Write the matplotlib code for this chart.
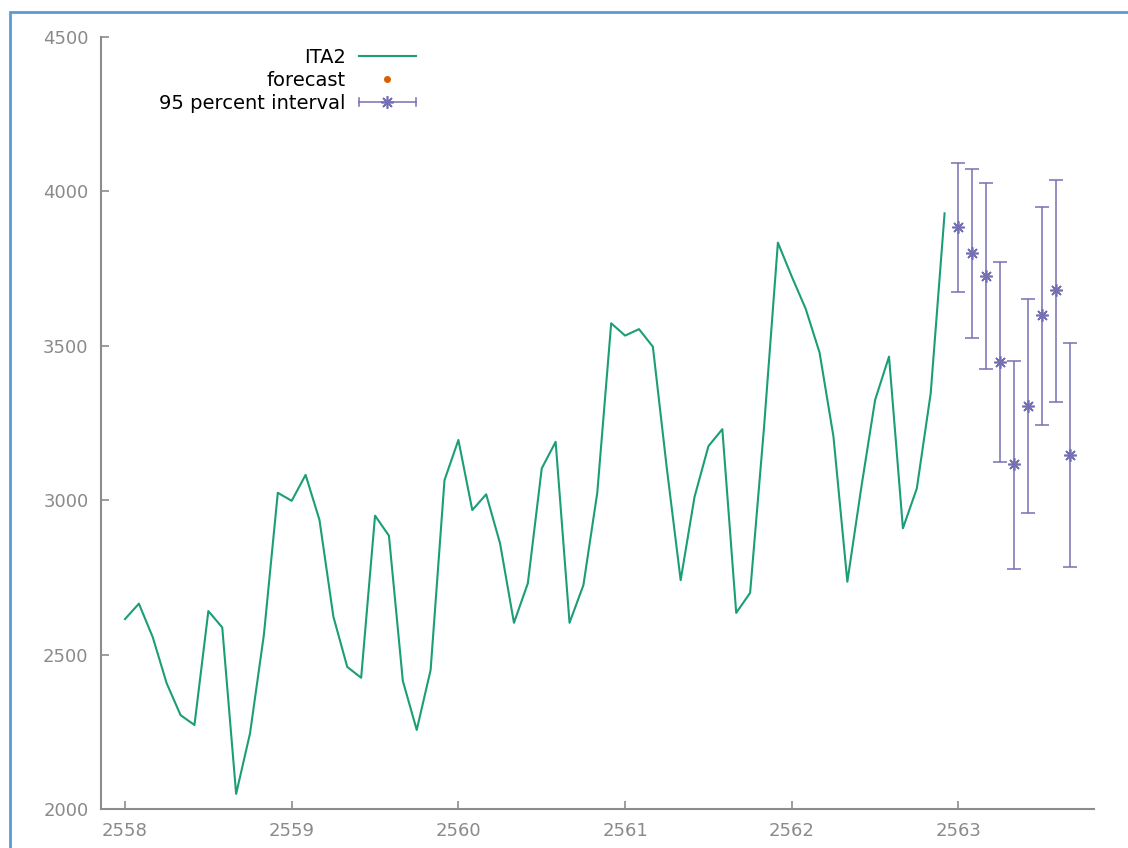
import numpy as np
import matplotlib
matplotlib.use("Agg")
import matplotlib.pyplot as plt
from matplotlib.patches import Rectangle
from matplotlib.lines import Line2D
from matplotlib.legend_handler import HandlerBase

# monthly series, 2558:01 .. 2562:12
start_year = 2558
ita2 = [2615, 2665, 2556, 2407, 2304, 2272, 2641, 2588, 2049, 2245, 2565, 3024,
        2998, 3082, 2936, 2623, 2460, 2425, 2950, 2885, 2415, 2256, 2450, 3065,
        3195, 2968, 3019, 2860, 2603, 2731, 3103, 3189, 2603, 2725, 3025, 3573,
        3533, 3554, 3497, 3105, 2741, 3011, 3175, 3230, 2635, 2700, 3235, 3834,
        3724, 3620, 3478, 3206, 2736, 3040, 3325, 3465, 2909, 3038, 3346, 3929]

# forecast 2563:01 .. 2563:09 with 95% bounds
fc_start = 2563
forecast = [3885, 3800, 3726, 3448, 3118, 3305, 3601, 3681, 3146]
fc_low = [3674, 3526, 3425, 3124, 2778, 2960, 3243, 3317, 2784]
fc_high = [4093, 4073, 4027, 3771, 3452, 3652, 3950, 4037, 3510]

GREEN = "#1b9e77"
ORANGE = "#d95f02"
PURPLE = "#7570b3"
GREY = "#8c8c8c"
STAR = (8, 2, 0)  # gnuplot-ish asterisk

t = start_year + np.arange(len(ita2)) / 12.0
tf = fc_start + np.arange(len(forecast)) / 12.0
fc = np.array(forecast)
yerr = [fc - np.array(fc_low), np.array(fc_high) - fc]

fig = plt.figure(figsize=(11.28, 8.48), dpi=100)
ax = fig.add_axes([101 / 1128, 1 - 809 / 848, 993 / 1128, 772 / 848])

ax.plot(t, ita2, color=GREEN, lw=1.5)
ax.plot(tf, forecast, ls="none", marker="o", ms=3, color=ORANGE, zorder=1)
ax.errorbar(tf, forecast, yerr=yerr, fmt="none", ecolor=PURPLE,
            elinewidth=1.1, capsize=5, capthick=1.1, zorder=2)
ax.plot(tf, forecast, ls="none", marker=STAR, ms=9, mew=1.2,
        color=PURPLE, zorder=3)

ax.set_xlim(2557.856, 2563.813)
ax.set_ylim(2000, 4500)
ax.set_xticks(range(2558, 2564))
ax.set_yticks(range(2000, 4501, 500))

for s in ["top", "right"]:
    ax.spines[s].set_visible(False)
for s in ["left", "bottom"]:
    ax.spines[s].set_color(GREY)
    ax.spines[s].set_linewidth(1.5)
ax.tick_params(direction="in", length=6, width=1.2, color=GREY,
               labelcolor="#8a8a8a", labelsize=13, pad=9)


class IntervalHandler(HandlerBase):
    # horizontal error bar with a star in the middle
    def create_artists(self, legend, orig, xd, yd, w, h, fs, trans):
        y = h / 2 - yd
        x0, x1 = -xd, w - xd
        cap = h * 0.3
        arts = [Line2D([x0, x1], [y, y], color=PURPLE, lw=1.1),
                Line2D([x0, x0], [y - cap, y + cap], color=PURPLE, lw=1.1),
                Line2D([x1, x1], [y - cap, y + cap], color=PURPLE, lw=1.1),
                Line2D([(x0 + x1) / 2], [y], ls="none", marker=STAR,
                       ms=9, mew=1.2, color=PURPLE)]
        for a in arts:
            a.set_transform(trans)
        return arts


h_line = Line2D([], [], color=GREEN, lw=1.5)
h_dot = Line2D([], [], ls="none", marker="o", ms=4, color=ORANGE)
h_int = Line2D([], [], color=PURPLE)

# gnuplot style legend: text right aligned, key on the right
ax.legend([h_line, h_dot, h_int],
          ["ITA2", "forecast", "95 percent interval"],
          handler_map={h_int: IntervalHandler()},
          loc="upper left", bbox_to_anchor=(0.049, 0.998),
          frameon=False, markerfirst=False, fontsize=14,
          handlelength=2.93, handletextpad=0.67, labelspacing=0.2,
          borderpad=0)

# screenshot frame
fig.add_artist(Rectangle((10 / 1128, -0.1), 1.2, 1 - 12 / 848 + 0.1,
                         transform=fig.transFigure, fill=False,
                         ec="#5b9bd5", lw=2))

fig.savefig("out.png", dpi=100)
